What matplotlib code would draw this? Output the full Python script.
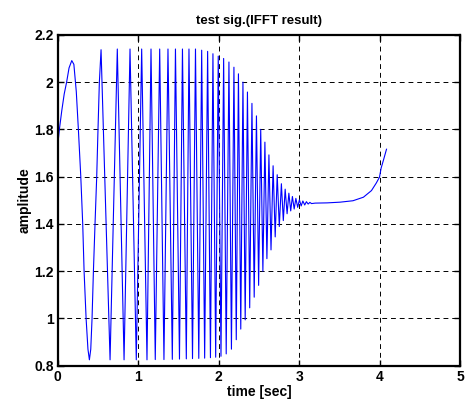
import matplotlib
matplotlib.use("Agg")
import matplotlib.pyplot as plt
import numpy as np

# ---- data ----
# first slow cycle (detailed readings)
t_start = [0.000, 0.020, 0.050, 0.080, 0.110, 0.140, 0.174, 0.200, 0.230, 0.256,
           0.286, 0.310, 0.327, 0.352, 0.375, 0.393, 0.410, 0.426, 0.443, 0.463,
           0.484, 0.500, 0.517, 0.538]
v_start = [1.735, 1.800, 1.880, 1.950, 2.000, 2.060, 2.091, 2.075, 1.960, 1.800,
           1.600, 1.400, 1.200, 1.000, 0.870, 0.825, 0.870, 1.000, 1.200, 1.400,
           1.600, 1.800, 2.000, 2.137]

# alternating troughs / peaks of the chirp (time, value)
t_ext = [0.650, 0.740, 0.824, 0.898, 0.976, 1.043, 1.109, 1.159, 1.212, 1.267,
         1.320, 1.370, 1.424, 1.463, 1.513, 1.550, 1.598, 1.631, 1.675, 1.712,
         1.753, 1.789, 1.826, 1.863, 1.898, 1.929, 1.963, 1.995, 2.029, 2.062,
         2.094, 2.128, 2.159, 2.190, 2.219, 2.246, 2.275, 2.302, 2.330, 2.358,
         2.386, 2.414, 2.442, 2.470, 2.497, 2.523, 2.550, 2.575, 2.600, 2.625,
         2.651, 2.677, 2.703, 2.728, 2.754, 2.780, 2.804, 2.827, 2.851, 2.873,
         2.896, 2.917, 2.939, 2.960, 2.983, 3.004, 3.026, 3.047, 3.070, 3.091,
         3.113, 3.134, 3.155]
v_ext = [0.825, 2.140, 0.825, 2.140, 0.825, 2.140, 0.825, 2.140, 0.826, 2.140,
         0.826, 2.140, 0.827, 2.140, 0.828, 2.140, 0.829, 2.140, 0.830, 2.140,
         0.831, 2.135, 0.832, 2.130, 0.834, 2.120, 0.836, 2.110, 0.840, 2.100,
         0.850, 2.085, 0.870, 2.063, 0.910, 2.035, 0.955, 2.000, 0.994, 1.958,
         1.045, 1.910, 1.090, 1.857, 1.140, 1.800, 1.200, 1.746, 1.253, 1.692,
         1.290, 1.646, 1.345, 1.608, 1.389, 1.570, 1.414, 1.547, 1.443, 1.530,
         1.455, 1.516, 1.463, 1.508, 1.470, 1.502, 1.476, 1.497, 1.480, 1.494,
         1.484, 1.491, 1.486]

# settled tail
t_tail = [3.200, 3.350, 3.510, 3.670, 3.800, 3.900, 3.960, 4.000, 4.020, 4.050, 4.087]
v_tail = [1.488, 1.489, 1.492, 1.498, 1.513, 1.541, 1.573, 1.598, 1.636, 1.671, 1.716]

x_ticks = [0, 1, 2, 3, 4, 5]
y_ticks = [0.8, 1.0, 1.2, 1.4, 1.6, 1.8, 2.0, 2.2]
y_tick_labels = ["0.8", "1", "1.2", "1.4", "1.6", "1.8", "2", "2.2"]

plt.rcParams['font.family'] = ['Liberation Sans', 'DejaVu Sans']

fig = plt.figure(figsize=(4.66, 4.05), dpi=100)
ax = fig.add_axes([0.124, 0.097, 0.863, 0.817])

t_all = t_start + t_ext + t_tail
v_all = v_start + v_ext + v_tail
ax.plot(t_all, v_all, color=(0, 0, 1), linewidth=0.8)

ax.set_xlim(0, 5)
ax.set_ylim(0.8, 2.2)
ax.set_xticks(x_ticks)
ax.set_xticklabels([str(x) for x in x_ticks], fontweight='bold', fontsize=10)
ax.set_yticks(y_ticks)
ax.set_yticklabels(y_tick_labels, fontweight='bold', fontsize=10)

ax.grid(True, color='black', linestyle=(0, (5, 4)), linewidth=0.7)
ax.tick_params(direction='in', length=4, width=1, top=True, right=True, pad=3)
for s in ax.spines.values():
    s.set_linewidth(1.6)

ax.set_xlabel('time [sec]', fontweight='bold', fontsize=10, labelpad=1)
ax.set_ylabel('amplitude', fontweight='bold', fontsize=10, labelpad=2)
ax.set_title('test sig.(IFFT result)', fontweight='bold', fontsize=9.5, pad=8)

fig.savefig('out.png', dpi=100)
